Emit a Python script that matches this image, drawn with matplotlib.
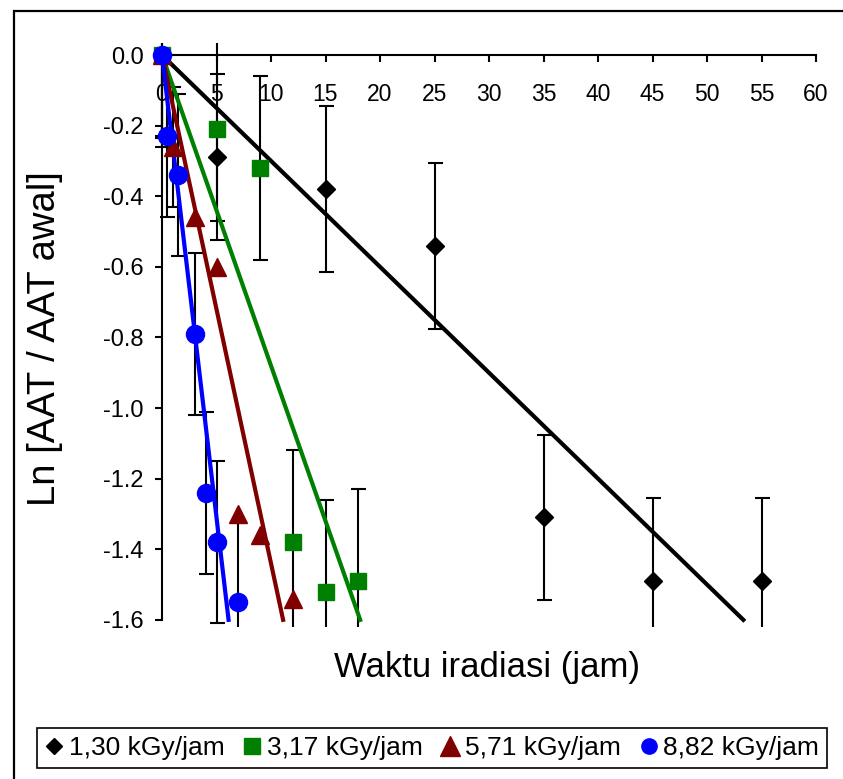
import numpy as np
import matplotlib
matplotlib.use("Agg")
import matplotlib.pyplot as plt
from matplotlib.lines import Line2D
from matplotlib.patches import Rectangle

plt.rcParams['font.family'] = ['Liberation Sans', 'DejaVu Sans']
plt.rcParams['axes.unicode_minus'] = False

# data (x = jam, y = Ln[AAT/AAT awal])
labels = ["1,30 kGy/jam", "3,17 kGy/jam", "5,71 kGy/jam", "8,82 kGy/jam"]

black_x = [0, 5, 15, 25, 35, 45, 55]
black_y = [0.0, -0.29, -0.38, -0.54, -1.31, -1.49, -1.49]
black_err = [0.235, 0.235, 0.235, 0.235, 0.235, 0.235, 0.235]

green_x = [0, 5, 9, 12, 15, 18]
green_y = [0.0, -0.21, -0.32, -1.38, -1.52, -1.49]
green_err = [0.26, 0.26, 0.26, 0.26, 0.26, 0.26]

red_x = [0, 1, 3, 5, 7, 9, 12]
red_y = [0.0, -0.26, -0.46, -0.60, -1.30, -1.36, -1.54]
red_err = [np.nan, 0.17, np.nan, np.nan, np.nan, np.nan, np.nan]

blue_x = [0, 0.5, 1.5, 3, 4, 5, 7]
blue_y = [0.0, -0.23, -0.34, -0.79, -1.24, -1.38, -1.55]
blue_err = [0.23, 0.23, 0.23, 0.23, 0.23, 0.23, 0.23]

# linear trendlines through the origin (slope per jam)
slopes = [-0.0300, -0.0880, -0.1440, -0.2620]

x_ticks = [0, 5, 10, 15, 20, 25, 30, 35, 40, 45, 50, 55, 60]
y_ticks = [0.0, -0.2, -0.4, -0.6, -0.8, -1.0, -1.2, -1.4, -1.6]

W, H = 843, 779
fig = plt.figure(figsize=(W / 100, H / 100), dpi=100)

# axes placed in pixel terms: x=-1 -> 151 px, x=60 -> 816 px, y=0.034 -> 43 px, y=-1.62 -> 627 px
ax = fig.add_axes([151.1 / W, 1 - 626.9 / H, 664.9 / W, 583.9 / H])
ax.set_xlim(-1, 60)
ax.set_ylim(-1.62, 0.034)
ax.patch.set_alpha(0)

for s in ['top', 'right']:
    ax.spines[s].set_visible(False)
ax.spines['bottom'].set_position(('data', 0))
ax.spines['left'].set_position(('data', 0))
ax.spines['bottom'].set_bounds(0, 60)
ax.spines['left'].set_bounds(-1.6, 0)
for s in ['bottom', 'left']:
    ax.spines[s].set_linewidth(1.5)

ax.set_xticks(x_ticks)
ax.set_xticklabels([str(t) for t in x_ticks])
ax.set_yticks(y_ticks)
ax.set_yticklabels(["%.1f" % t for t in y_ticks])
ax.tick_params(axis='x', direction='out', length=5, width=1.5, pad=15, labelsize=16.5)
ax.tick_params(axis='y', direction='out', length=5, width=1.5, pad=8, labelsize=17)

series = [
    (black_x, black_y, black_err, 'black', 'D', 9),
    (green_x, green_y, green_err, '#008000', 's', 12),
    (red_x, red_y, red_err, '#800000', '^', 13),
    (blue_x, blue_y, blue_err, '#0000FF', 'o', 13),
]

clip = Rectangle((-3, -1.62), 66, 1.654, transform=ax.transData)

for (xs, ys, es, col, mk, ms), k in zip(series, slopes):
    eb = ax.errorbar(xs, ys, yerr=es, fmt='none', ecolor='black',
                     elinewidth=1.5, capsize=5.4, capthick=1.5, zorder=2)
    for a in eb.lines[1] + eb.lines[2]:
        a.set_clip_path(clip)
    x_end = -1.6 / k
    ax.plot([0, x_end], [0, k * x_end], color=col, lw=3, zorder=3)
    ax.plot(xs, ys, linestyle='none', marker=mk, ms=ms, color=col,
            markeredgecolor=col, zorder=4, clip_on=False)

fig.text(487.5 / W, 1 - 668 / H, "Waktu iradiasi (jam)", fontsize=25,
         ha='center', va='center')
fig.text(45 / W, 1 - 339 / H, "Ln [AAT / AAT awal]", fontsize=27.5,
         ha='center', va='center', rotation=90)

# outer chart border (right and bottom edges run off the picture)
fig.patches.append(Rectangle((14 / W, -0.1), 1.2, 1.1 - 11 / H,
                             transform=fig.transFigure, fill=False,
                             edgecolor='black', lw=1.6))

leg_ms = [8, 11, 14, 11]
handles = [Line2D([], [], linestyle='none', marker=mk, ms=m, color=col)
           for (_, _, _, col, mk, _), m in zip(series, leg_ms)]
leg = fig.legend(handles, labels, loc='center', bbox_to_anchor=(432 / W, 1 - 748 / H),
                 ncol=4, fontsize=19, frameon=True, fancybox=False,
                 handlelength=0.7, handletextpad=0.2, columnspacing=0.7,
                 borderpad=0.3, borderaxespad=0)
leg.get_frame().set_edgecolor('black')
leg.get_frame().set_linewidth(1.2)
leg.get_frame().set_alpha(None)

fig.savefig("out.png", dpi=100)
